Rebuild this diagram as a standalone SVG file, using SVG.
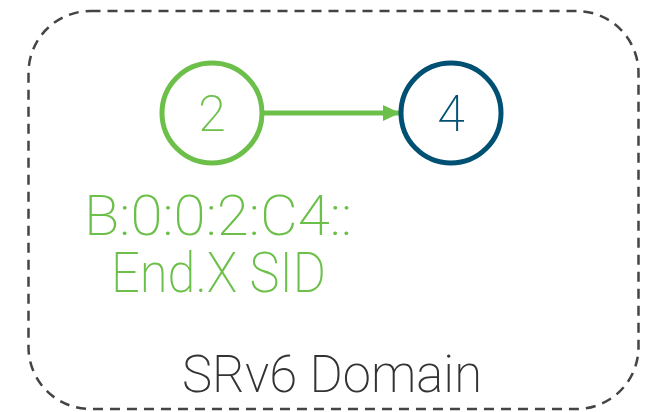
<svg xmlns="http://www.w3.org/2000/svg" width="649" height="412" viewBox="0 0 649 412">
<defs>
<style>
.lbl{font-family:Roboto,"Liberation Sans",sans-serif;font-weight:200}
.green{fill:#6cc04a}
</style>
<marker id="ah" markerWidth="3.4" markerHeight="3.2" refX="3.2" refY="1.6" orient="auto" markerUnits="strokeWidth">
<path d="M0,0 L3.4,1.6 L0,3.2 Z" fill="#6cc04a"/>
</marker>
</defs>
<rect width="649" height="412" fill="#fff"/>
<g id="domain">
<rect x="28.5" y="11" width="610" height="398" rx="62" ry="62" fill="none" stroke="#444" stroke-width="2.5" stroke-dasharray="10,7"/>
<text class="lbl" x="332" y="392" text-anchor="middle" font-size="51" fill="#333" textLength="300" lengthAdjust="spacingAndGlyphs">SRv6 Domain</text>
</g>
<g id="connectors">
<line x1="264" y1="113" x2="399" y2="113" stroke="#6cc04a" stroke-width="5" marker-end="url(#ah)"/>
</g>
<g id="node2">
<circle cx="212" cy="113" r="50" fill="none" stroke="#6cc04a" stroke-width="5"/>
<text class="lbl green" x="212" y="131" text-anchor="middle" font-size="50">2</text>
</g>
<g id="node4">
<circle cx="451" cy="113" r="50" fill="none" stroke="#005073" stroke-width="5"/>
<text class="lbl" x="451" y="131" text-anchor="middle" font-size="50" fill="#005073">4</text>
</g>
<g id="sid-label">
<text class="lbl green" x="84" y="235" font-size="56" textLength="268" lengthAdjust="spacingAndGlyphs">B:0:0:2:C4::</text>
<text class="lbl green" x="111" y="292" font-size="56" textLength="215" lengthAdjust="spacingAndGlyphs">End.X SID</text>
</g>
</svg>
